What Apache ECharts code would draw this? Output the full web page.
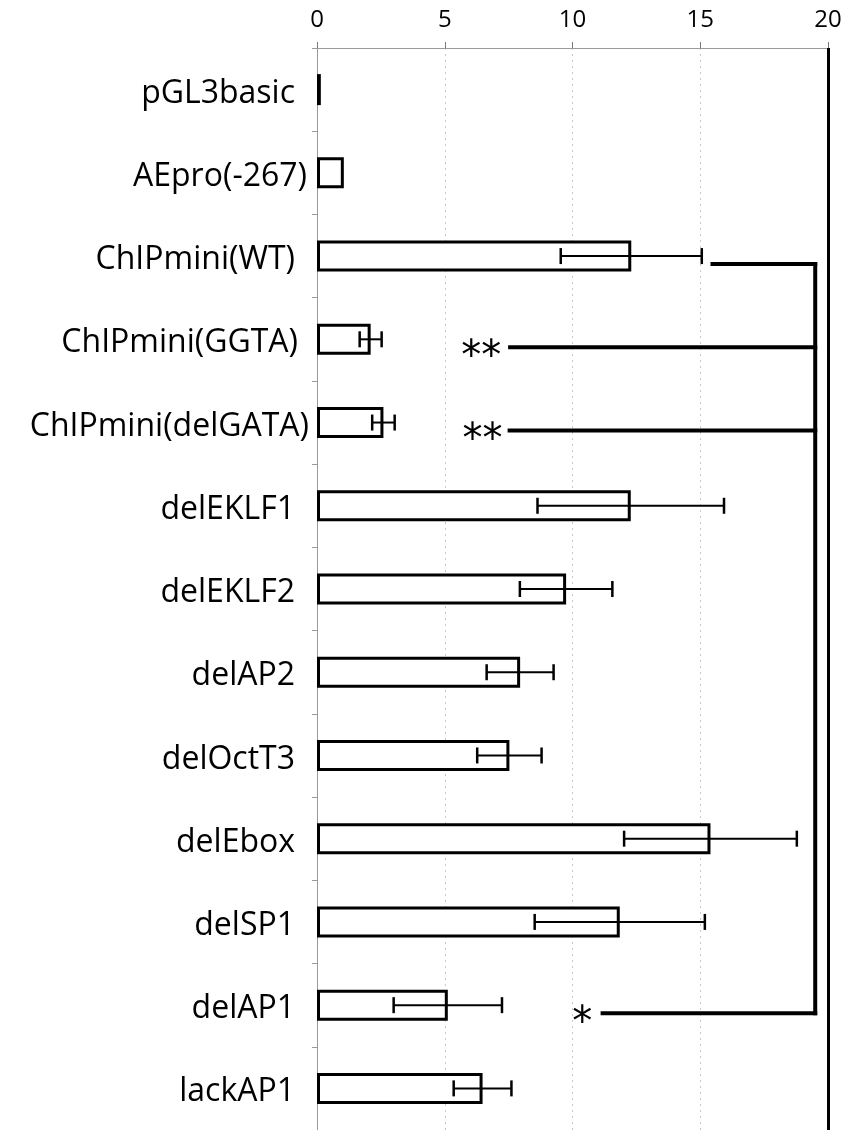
<!DOCTYPE html>
<html>
<head>
<meta charset="utf-8">
<script src="https://cdn.jsdelivr.net/npm/echarts@6/dist/echarts.min.js"></script>
<style>html,body{margin:0;padding:0;background:#fff;}#c{width:868px;height:1130px;}</style>
</head>
<body>
<div id="c"></div>
<script>
const categories = ['pGL3basic','AEpro(-267)','ChIPmini(WT)','ChIPmini(GGTA)','ChIPmini(delGATA)','delEKLF1','delEKLF2','delAP2','delOctT3','delEbox','delSP1','delAP1','lackAP1'];
const means = [0.15, 1.05, 12.3, 2.1, 2.6, 12.28, 9.75, 7.95, 7.53, 15.4, 11.85, 5.12, 6.48];
const errors = [0, 0, 2.76, 0.43, 0.44, 3.65, 1.81, 1.31, 1.26, 3.38, 3.33, 2.12, 1.13];
const xTicks = [0, 5, 10, 15, 20];

const sigCategories = ['ChIPmini(WT)','ChIPmini(GGTA)','ChIPmini(delGATA)','delAP1'];
const sigLineStart = [15.4, 7.48, 7.46, 11.1];
const sigMarks = ['', '**', '**', '*'];
const sigMarkX = [15.4, 6.43, 6.48, 10.38];
const bracketX = 19.5;

const chart = echarts.init(document.getElementById('c'), null, {renderer: 'canvas'});
const FONT = '"Open Sans", sans-serif';

const labelStyleKey = {'AEpro(-267)': 'b', 'ChIPmini(GGTA)': 'c', 'ChIPmini(delGATA)': 'd'};
function richStyle(pad) { return {fontSize: 32, fontFamily: FONT, color: '#000', padding: [8, pad, 0, 0]}; }

const errData = [];
categories.forEach((c, i) => { if (errors[i] > 0) errData.push([i, means[i] - errors[i], means[i] + errors[i]]); });

const sigData = sigCategories.map((c, i) => [categories.indexOf(c), sigLineStart[i], bracketX, sigMarkX[i]]);
const bracketData = [[categories.indexOf(sigCategories[0]), categories.indexOf(sigCategories[sigCategories.length - 1]), bracketX]];

chart.setOption({
  animation: false,
  backgroundColor: '#fff',
  grid: {left: 317, right: 40, top: 48, bottom: -3.5, containLabel: false},
  xAxis: {
    type: 'value', position: 'top', min: xTicks[0], max: xTicks[xTicks.length - 1], interval: 5,
    axisLine: {show: true, lineStyle: {color: '#9a9a9a', width: 1}},
    axisTick: {show: true, length: 6, lineStyle: {color: '#777', width: 1}},
    axisLabel: {fontSize: 24, fontFamily: FONT, color: '#000', margin: 16},
    splitLine: {show: true, lineStyle: {color: '#c8c8c8', type: [2, 4], width: 1}}
  },
  yAxis: {
    type: 'category', inverse: true, data: categories,
    axisLine: {show: true, lineStyle: {color: '#9a9a9a', width: 1}},
    axisTick: {show: true, length: 5, lineStyle: {color: '#9a9a9a', width: 1}},
    axisLabel: {
      margin: 8, fontSize: 32, fontFamily: FONT, color: '#000',
      formatter: v => '{' + (labelStyleKey[v] || 'a') + '|' + v + '}',
      rich: {a: richStyle(14), b: richStyle(2), c: richStyle(11), d: richStyle(0)}
    }
  },
  series: [
    {
      type: 'bar', data: means, barWidth: 31,
      itemStyle: {color: '#fff', borderColor: '#000', borderWidth: 3},
      z: 2,
      markLine: {
        silent: true, symbol: 'none', label: {show: false},
        lineStyle: {color: '#000', width: 3, type: 'solid'},
        data: [{xAxis: xTicks[xTicks.length - 1]}]
      }
    },
    {
      type: 'custom', z: 3, data: errData,
      encode: {x: [1, 2], y: 0},
      renderItem: function (params, api) {
        const y = api.value(0);
        const a = api.coord([api.value(1), y]);
        const b = api.coord([api.value(2), y]);
        const h = 8;
        return {type: 'group', children: [
          {type: 'line', shape: {x1: a[0], y1: a[1], x2: b[0], y2: b[1]}, style: {stroke: '#000', lineWidth: 2}},
          {type: 'line', shape: {x1: a[0], y1: a[1] - h, x2: a[0], y2: a[1] + h}, style: {stroke: '#000', lineWidth: 2.5}},
          {type: 'line', shape: {x1: b[0], y1: b[1] - h, x2: b[0], y2: b[1] + h}, style: {stroke: '#000', lineWidth: 2.5}}
        ]};
      }
    },
    {
      type: 'custom', z: 4, data: sigData,
      encode: {x: [1, 2], y: 0},
      renderItem: function (params, api) {
        const y = api.value(0);
        const a = api.coord([api.value(1), y]);
        const b = api.coord([api.value(2), y]);
        const m = api.coord([api.value(3), y]);
        const mark = sigMarks[params.dataIndex];
        const ch = [
          {type: 'line', shape: {x1: a[0], y1: a[1] + 8, x2: b[0] + 2, y2: b[1] + 8}, style: {stroke: '#000', lineWidth: 4}}
        ];
        if (mark) {
          ch.push({type: 'text', x: m[0], y: m[1] + 19, style: {text: mark, fontSize: 40, fontFamily: '"DejaVu Sans", sans-serif', fill: '#000', textAlign: 'center', textVerticalAlign: 'middle'}});
        }
        return {type: 'group', children: ch};
      }
    },
    {
      type: 'custom', z: 4, data: bracketData,
      encode: {x: 2, y: [0, 1]},
      renderItem: function (params, api) {
        const t = api.coord([api.value(2), api.value(0)]);
        const b = api.coord([api.value(2), api.value(1)]);
        return {type: 'line', shape: {x1: t[0], y1: t[1] + 6, x2: b[0], y2: b[1] + 10}, style: {stroke: '#000', lineWidth: 4}};
      }
    }
  ]
});
</script>
</body>
</html>
